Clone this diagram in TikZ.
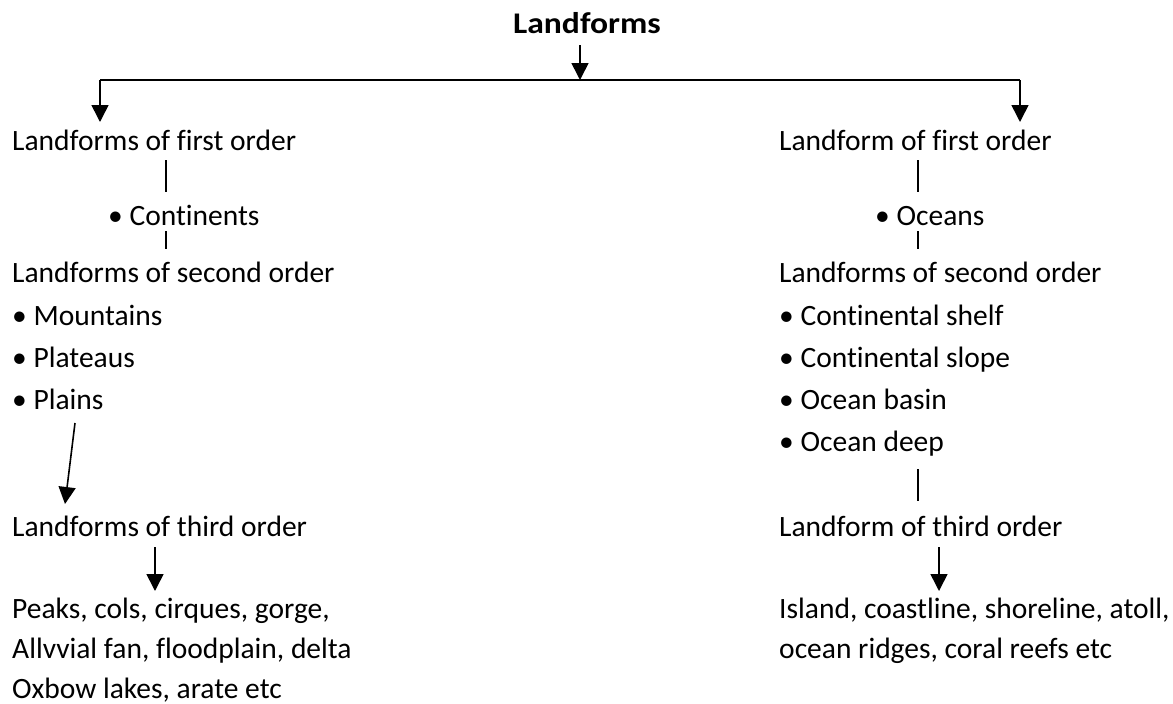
\documentclass[tikz,border=0pt]{standalone}
\usepackage{fontspec}
\setmainfont[Ligatures={NoCommon}]{Carlito}
\usetikzlibrary{arrows.meta}
\begin{document}
\begin{tikzpicture}[x=1pt,y=-1pt,
  txt/.style={anchor=base west, inner sep=0pt, font=\fontsize{29.5}{34}\selectfont},
  ttl/.style={anchor=base, inner sep=0pt, font=\fontsize{30}{34}\selectfont\bfseries},
  arr/.style={line width=1.6pt, -{Triangle[width=17pt,length=17pt]}},
  ln/.style={line width=1.4pt}]
\useasboundingbox (0,0) rectangle (1173,704);
% title
\node[ttl] (title) at (587,33) {\scalebox{1.12}[1]{Landforms}};
% left column
\node[txt] (lf1) at (12,150) {Landforms of first order};
\node[txt] (cont) at (108,225) {\textbullet{} Continents};
\node[txt] (lf2) at (12,282) {Landforms of second order};
\node[txt] (mtn) at (12,325) {\textbullet{} Mountains};
\node[txt] (plat) at (12,367) {\textbullet{} Plateaus};
\node[txt] (plain) at (12,409) {\textbullet{} Plains};
\node[txt] (lf3) at (12,536) {Landforms of third order};
\node[txt] (la) at (12,618) {Peaks, cols, cirques, gorge,};
\node[txt] (lb) at (12,658) {Allvvial fan, floodplain, delta};
\node[txt] (lc) at (12,698) {Oxbow lakes, arate etc};
% right column
\node[txt] (rf1) at (779,150) {Landform of first order};
\node[txt] (ocean) at (875,225) {\textbullet{} Oceans};
\node[txt] (rf2) at (779,282) {Landforms of second order};
\node[txt] (shelf) at (779,325) {\textbullet{} Continental shelf};
\node[txt] (slope) at (779,367) {\textbullet{} Continental slope};
\node[txt] (basin) at (779,409) {\textbullet{} Ocean basin};
\node[txt] (deep) at (779,451) {\textbullet{} Ocean deep};
\node[txt] (rf3) at (779,536) {Landform of third order};
\node[txt] (ra) at (779,618) {Island, coastline, shoreline, atoll,};
\node[txt] (rb) at (779,658) {ocean ridges, coral reefs etc};
% connector points
\coordinate (t0) at (580,45);
\coordinate (bus) at (580,80);
\coordinate (busL) at (100,80);
\coordinate (busR) at (1020,80);
\coordinate (lf1top) at (100,122);
\coordinate (rf1top) at (1020,122);
\coordinate (l1a) at (166,160); \coordinate (l1b) at (166,192);
\coordinate (l2a) at (166,231); \coordinate (l2b) at (166,249);
\coordinate (p0) at (75,423); \coordinate (p1) at (65,504);
\coordinate (q0) at (155,547); \coordinate (q1) at (155,591);
\coordinate (r1a) at (918,160); \coordinate (r1b) at (918,192);
\coordinate (r2a) at (918,231); \coordinate (r2b) at (918,249);
\coordinate (r3a) at (918,469); \coordinate (r3b) at (918,501);
\coordinate (s0) at (939,547); \coordinate (s1) at (939,591);
% connectors
\draw[arr] (t0) -- (bus);
\draw[ln] (busL) -- (busR);
\draw[arr] (busL) -- (lf1top);
\draw[arr] (busR) -- (rf1top);
\draw[ln] (l1a) -- (l1b);
\draw[ln] (l2a) -- (l2b);
\draw[arr] (p0) -- (p1);
\draw[arr] (q0) -- (q1);
\draw[ln] (r1a) -- (r1b);
\draw[ln] (r2a) -- (r2b);
\draw[ln] (r3a) -- (r3b);
\draw[arr] (s0) -- (s1);
\end{tikzpicture}
\end{document}
